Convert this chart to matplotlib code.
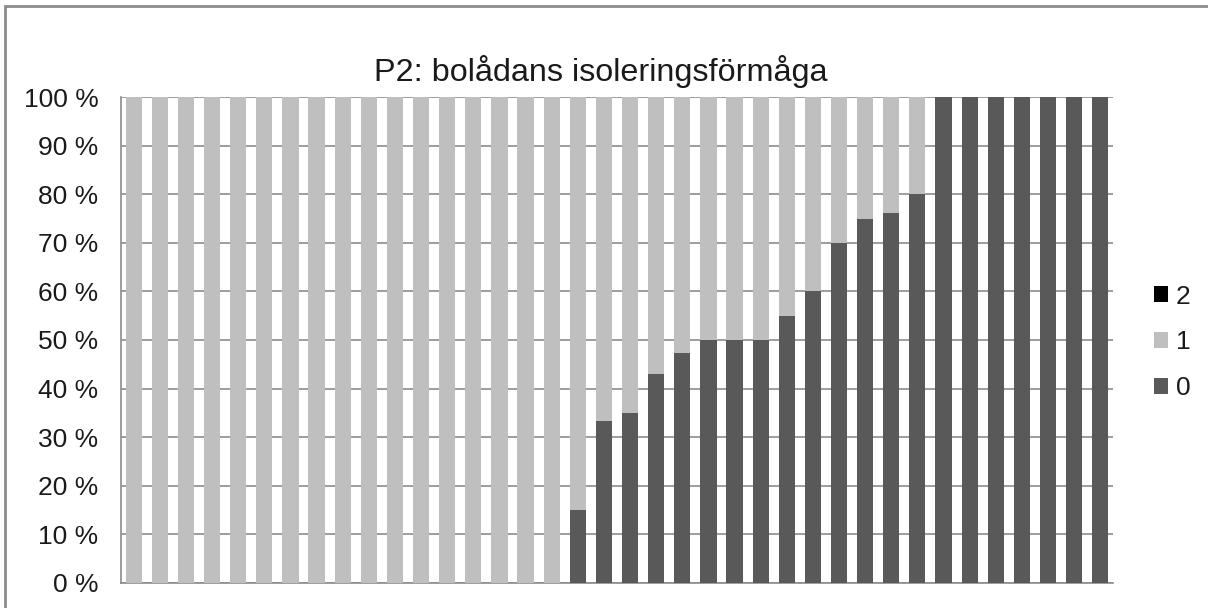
import numpy as np
import matplotlib.pyplot as plt
from matplotlib.patches import Rectangle

plt.rcParams['font.family'] = ['Liberation Sans', 'DejaVu Sans']

# share of answers per respondent, in percent (score 0 / 1 / 2)
score0 = [0] * 17 + [15, 33.3, 35, 42.9, 47.4, 50, 50, 50, 55, 60, 70, 75, 76.2, 80] + [100] * 7
score2 = [0] * 38
score1 = [100 - a - b for a, b in zip(score0, score2)]

series_names = ['0', '1', '2']
series_colors = ['#595959', '#bfbfbf', '#000000']
y_ticks = list(range(0, 101, 10))
y_tick_labels = [f'{t} %' for t in y_ticks]

fig = plt.figure(figsize=(12.08, 6.08), dpi=100)
ax = fig.add_axes([0.0999, 0.0416, 0.8217, 0.7984])

x = np.arange(len(score0))
bottom = np.zeros(len(score0))
handles = []
for vals, name, col in zip([score0, score1, score2], series_names, series_colors):
    h = ax.bar(x, vals, width=0.62, bottom=bottom, color=col, label=name, zorder=3)
    handles.append(h)
    bottom += np.array(vals)

ax.set_xlim(-0.5, len(score0) - 0.5)
ax.set_ylim(0, 100)
ax.set_yticks(y_ticks)
ax.set_yticklabels(y_tick_labels, fontsize=19, color='#1a1a1a')
ax.set_xticks([])
ax.tick_params(axis='y', length=0, pad=16)
ax.yaxis.grid(True, color='#8c8c8c', linewidth=1.2, zorder=0)
for side in ['top', 'right']:
    ax.spines[side].set_visible(False)
for side in ['left', 'bottom']:
    ax.spines[side].set_color('#8c8c8c')
    ax.spines[side].set_linewidth(1.2)

fig.text(0.4975, 0.882, 'P2: bolådans isoleringsförmåga', ha='center', va='center',
         fontsize=23.3, color='#1a1a1a')

# legend listed top to bottom as 2, 1, 0
fig.legend(handles[::-1], series_names[::-1], loc='center left',
           bbox_to_anchor=(0.955, 0.437), frameon=False, fontsize=19,
           handlelength=0.55, handleheight=0.55, handletextpad=0.3,
           labelspacing=0.82, borderpad=0, borderaxespad=0,
           labelcolor='#1a1a1a')

# chart frame
fig.patches.append(Rectangle((0.004, -0.01), 1.2, 1.0, transform=fig.transFigure,
                             fill=False, edgecolor='#8c8c8c', linewidth=2))

fig.savefig('out.png', dpi=100)
